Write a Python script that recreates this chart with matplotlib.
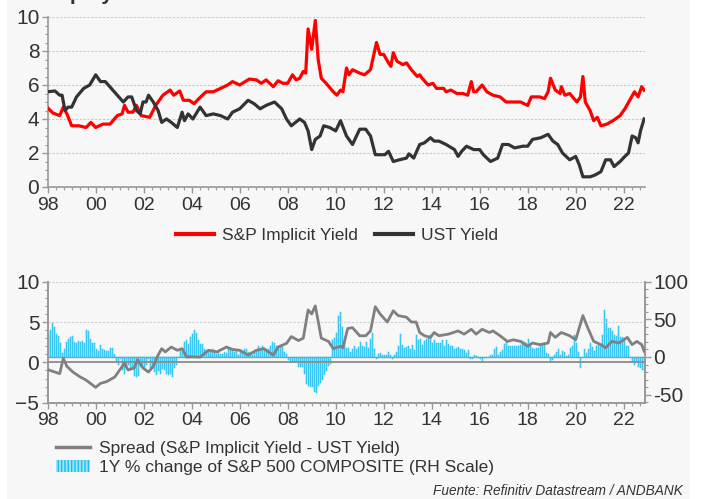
import matplotlib
matplotlib.use("Agg")
import matplotlib.pyplot as plt
from matplotlib.patches import Rectangle, Patch
from matplotlib.lines import Line2D
from matplotlib.ticker import MultipleLocator, FixedLocator
import numpy as np

# ---------------- data ----------------
sp_yield_t = [1998.0,1998.22,1998.5,1998.65,1998.8,1999.0,1999.3,1999.6,1999.8,2000.0,2000.3,2000.6,2000.9,2001.1,2001.2,2001.35,2001.55,2001.7,2001.9,2002.25,2002.5,2002.8,2003.1,2003.25,2003.5,2003.65,2003.9,2004.1,2004.3,2004.6,2004.9,2005.2,2005.5,2005.7,2006.0,2006.4,2006.7,2006.9,2007.1,2007.4,2007.6,2007.8,2008.0,2008.2,2008.35,2008.5,2008.65,2008.75,2008.85,2009.0,2009.15,2009.27,2009.4,2009.6,2009.9,2010.05,2010.2,2010.3,2010.45,2010.55,2010.7,2011.0,2011.2,2011.45,2011.7,2011.85,2012.0,2012.2,2012.3,2012.4,2012.55,2012.8,2012.95,2013.15,2013.4,2013.5,2013.6,2013.85,2014.05,2014.2,2014.5,2014.6,2014.8,2015.05,2015.3,2015.5,2015.65,2015.75,2015.85,2016.1,2016.3,2016.55,2016.85,2017.1,2017.7,2018.0,2018.15,2018.5,2018.7,2018.85,2018.95,2019.15,2019.35,2019.4,2019.55,2019.75,2020.05,2020.2,2020.3,2020.4,2020.6,2020.75,2020.9,2021.05,2021.3,2021.55,2021.85,2022.05,2022.25,2022.45,2022.6,2022.75,2022.85]
sp_yield_v = [4.65,4.35,4.2,4.7,4.3,3.6,3.6,3.5,3.8,3.5,3.7,3.7,4.2,4.3,4.8,4.4,4.4,4.8,4.2,4.1,4.8,5.4,5.7,5.4,5.65,5.1,5.1,4.9,5.2,5.6,5.6,5.8,6.0,6.2,6.0,6.35,6.3,6.1,6.3,5.9,6.25,6.1,6.1,6.6,6.3,6.4,6.8,6.7,9.3,8.1,9.8,7.5,6.4,6.1,5.6,5.4,5.7,5.6,7.0,6.6,6.9,6.7,6.6,6.9,8.5,7.8,7.8,7.3,7.1,7.9,7.4,7.2,7.3,6.9,6.5,6.6,6.4,6.0,6.1,5.8,5.8,5.6,5.7,5.5,5.5,5.4,6.2,5.6,5.6,6.0,5.6,5.4,5.3,5.0,5.0,4.8,5.3,5.3,5.2,5.6,6.4,5.7,5.5,5.9,5.4,5.5,5.0,5.3,6.5,5.0,4.5,3.9,4.1,3.6,3.7,3.9,4.2,4.6,5.1,5.6,5.3,5.9,5.7]

ust_t = [1998.0,1998.3,1998.5,1998.6,1998.72,1998.85,1999.0,1999.2,1999.5,1999.75,2000.0,2000.2,2000.4,2000.65,2000.9,2001.15,2001.35,2001.5,2001.7,2001.85,2001.97,2002.1,2002.2,2002.4,2002.6,2002.75,2002.95,2003.15,2003.4,2003.6,2003.7,2003.85,2004.05,2004.35,2004.6,2004.9,2005.2,2005.5,2005.7,2006.0,2006.35,2006.6,2006.85,2007.1,2007.45,2007.75,2007.95,2008.15,2008.5,2008.7,2008.85,2009.0,2009.15,2009.35,2009.5,2009.75,2010.0,2010.2,2010.45,2010.7,2011.0,2011.25,2011.45,2011.65,2011.85,2012.05,2012.2,2012.4,2012.65,2012.95,2013.05,2013.25,2013.5,2013.7,2013.95,2014.1,2014.3,2014.6,2014.95,2015.1,2015.25,2015.45,2015.75,2016.0,2016.15,2016.45,2016.75,2016.95,2017.2,2017.45,2017.8,2018.0,2018.2,2018.55,2018.85,2019.05,2019.25,2019.45,2019.75,2020.0,2020.15,2020.3,2020.6,2020.8,2021.05,2021.25,2021.45,2021.6,2021.85,2022.05,2022.2,2022.35,2022.5,2022.6,2022.7,2022.85]
ust_v = [5.6,5.65,5.4,5.4,4.5,4.7,4.7,5.3,5.8,6.0,6.6,6.2,6.2,5.8,5.4,5.0,5.3,5.3,4.5,4.3,5.0,5.0,5.4,5.0,4.5,3.8,4.0,3.8,3.5,4.4,3.9,4.3,4.0,4.7,4.2,4.3,4.2,4.0,4.4,4.6,5.1,4.9,4.6,4.8,5.0,4.6,4.0,3.6,4.0,3.8,3.3,2.2,2.8,3.0,3.6,3.5,3.3,3.9,3.0,2.5,3.4,3.4,3.0,1.9,1.9,1.9,2.1,1.5,1.6,1.7,1.95,1.7,2.5,2.6,2.9,2.7,2.7,2.5,2.2,1.8,2.1,2.4,2.2,2.2,1.9,1.5,1.7,2.5,2.5,2.3,2.4,2.4,2.8,2.9,3.1,2.7,2.5,2.0,1.6,1.8,1.3,0.6,0.6,0.7,0.9,1.6,1.6,1.2,1.5,1.8,2.0,3.0,2.9,2.6,3.3,4.0]

spread_t = [1998.0,1998.3,1998.5,1998.65,1998.8,1999.05,1999.35,1999.6,2000.0,2000.2,2000.45,2000.8,2001.0,2001.2,2001.35,2001.6,2001.75,2001.97,2002.2,2002.4,2002.6,2002.75,2002.9,2003.15,2003.4,2003.6,2003.8,2004.0,2004.35,2004.7,2005.05,2005.45,2005.7,2006.0,2006.35,2006.7,2007.0,2007.2,2007.4,2007.6,2007.95,2008.15,2008.45,2008.65,2008.85,2009.0,2009.15,2009.4,2009.7,2009.9,2010.2,2010.3,2010.5,2010.7,2011.0,2011.25,2011.45,2011.65,2011.85,2012.15,2012.4,2012.6,2012.95,2013.15,2013.35,2013.5,2013.7,2013.95,2014.1,2014.3,2014.7,2015.1,2015.35,2015.65,2015.85,2016.1,2016.4,2016.55,2016.85,2017.15,2017.4,2017.7,2018.0,2018.2,2018.5,2018.85,2018.95,2019.15,2019.4,2019.75,2020.0,2020.3,2020.5,2020.75,2021.05,2021.25,2021.5,2021.8,2022.0,2022.15,2022.35,2022.55,2022.75,2022.85]
spread_v = [-0.9,-1.2,-1.4,0.5,-0.5,-1.2,-1.8,-2.2,-3.1,-2.6,-2.4,-1.8,-0.95,-0.1,-0.95,-0.7,0.3,-0.7,-1.2,-0.5,0.9,1.7,1.3,1.9,1.5,1.7,0.65,0.7,0.65,1.5,1.3,1.9,1.6,1.5,0.9,1.5,1.7,1.3,0.9,1.9,2.35,3.2,2.7,3.0,6.5,6.0,7.0,3.0,2.6,1.7,2.0,1.8,4.2,4.3,3.3,3.3,3.9,6.9,6.0,5.0,6.4,5.8,5.6,5.0,5.0,3.7,3.3,3.1,3.7,3.3,3.5,3.9,3.5,4.1,3.5,4.1,3.7,3.9,3.3,2.6,2.8,2.6,2.0,2.4,2.2,2.4,3.7,3.1,3.7,3.3,2.8,5.8,4.3,2.6,2.2,1.8,2.6,2.4,2.8,3.1,2.2,2.6,2.2,1.4]

# 1Y % change of S&P 500 (monthly, Jan-1998 .. Nov-2022)
spx_yoy = [
    30, 36, 45, 40, 30, 28, 18, 5, 10, 20, 24, 27,        # 1998
    28, 20, 18, 21, 20, 21, 18, 36, 34, 24, 19, 19,       # 1999
    10, 8, 16, 11, 9, 8, 8, 12, 12, 4, -5, -10,           # 2000
    -2, -17, -22, -14, -11, -16, -15, -25, -27, -25, -13, -12,  # 2001
    -16, -10, -2, -14, -15, -20, -24, -18, -22, -16, -17, -23,  # 2002
    -24, -22, -26, -15, -10, -1, 8, 10, 20, 22, 17, 26,   # 2003
    30, 36, 32, 22, 17, 17, 11, 9, 9, 7, 11, 9,           # 2004
    4, 6, 4, 4, 6, 5, 11, 10, 10, 6, 8, 3,                # 2005
    9, 8, 10, 11, 6, 6, 2, 6, 8, 14, 12, 14,              # 2006
    12, 10, 10, 14, 20, 18, 14, 12, 15, 13, 6, 4,         # 2007
    -4, -5, -7, -6, -6, -13, -13, -13, -23, -36, -39, -40,  # 2008
    -40, -46, -48, -38, -34, -30, -24, -19, -12, -9, 22, 25,  # 2009
    32, 55, 60, 40, 18, 12, 12, 6, 10, 14, 10, 13,        # 2010
    20, 15, 13, 20, 12, 24, 32, 10, -3, 4, 5, 2,          # 2011
    2, 3, 6, 3, -2, 3, 7, 15, 31, 16, 12, 13,             # 2012
    14, 11, 16, 9, 29, 22, 24, 16, 21, 24, 25, 29,        # 2013
    19, 23, 19, 18, 18, 22, 15, 23, 17, 15, 14, 11,       # 2014
    12, 13, 10, 11, 9, 5, 9, -2, -3, 3, 1, -1,            # 2015
    -3, -7, -1, -1, -1, 2, 3, 10, 13, 2, 6, 9,            # 2016
    17, 22, 15, 15, 15, 15, 14, 14, 16, 21, 20, 19,       # 2017
    24, 15, 12, 11, 12, 12, 14, 17, 16, 5, 4, -6,         # 2018
    -4, 3, 7, 11, 2, 8, 6, 1, 2, 12, 14, 29,              # 2019
    19, 6, -15, -1, 10, 5, 10, 19, 13, 8, 15, 16,         # 2020
    15, 29, 63, 50, 38, 39, 34, 29, 28, 41, 26, 27,       # 2021
    22, 15, 14, -1, -6, -10, -6, -13, -15, -17, -18,      # 2022
]
spx_t = [1998 + i / 12 + 1 / 24 for i in range(len(spx_yoy))]

xtick_years = list(range(1998, 2023, 2))
xtick_labels = [f"{y % 100:02d}" for y in xtick_years]

# ---------------- figure ----------------
W, H = 706, 499
fig = plt.figure(figsize=(W / 100, H / 100), dpi=100, facecolor="white")
BG = "#f7f7f7"
fig.patches.append(Rectangle((7 / W, 0), (690 - 7) / W, 1, transform=fig.transFigure,
                             facecolor=BG, edgecolor="none", zorder=-10))

FONT = "Liberation Sans"
TXT = "#333333"
SPINE = "#999999"
YLAB = 15
XLAB = 14
LEG = 12.5

def px_axes(l, t, r, b):
    return fig.add_axes([l / W, (H - b) / H, (r - l) / W, (b - t) / H])

x0, x1 = 1998.0, 1998.0 + (645 - 47.7) / 24

# partial title (cut at the top edge, as in the reference)
fig.text(50 / W, 1 + 0.5 / H, "Equity", fontsize=15, fontweight="bold", color=TXT,
         family=FONT, va="baseline", ha="left")

# ---- top panel ----
ax1 = px_axes(47.7, 17, 645, 187)
ax1.set_facecolor(BG)
ax1.plot(sp_yield_t, sp_yield_v, color="#ff0000", lw=2.3, zorder=3)
ax1.plot(ust_t, ust_v, color="#333333", lw=2.3, zorder=3)
ax1.set_xlim(x0, x1)
ax1.set_ylim(0, 10)
ax1.yaxis.set_major_locator(MultipleLocator(2))
ax1.yaxis.set_minor_locator(MultipleLocator(0.5))
ax1.xaxis.set_major_locator(FixedLocator(xtick_years))
ax1.xaxis.set_minor_locator(MultipleLocator(1 / 3))
ax1.set_xticklabels(xtick_labels)
ax1.grid(axis="y", which="major", color="#c8c8c8", ls=(0, (2, 1.5)), lw=0.8)
for s in ["top", "right"]:
    ax1.spines[s].set_visible(False)
for s in ["left", "bottom"]:
    ax1.spines[s].set_color(SPINE)
    ax1.spines[s].set_linewidth(1.2)
ax1.tick_params(axis="both", which="major", length=4, color=SPINE, width=1)
ax1.tick_params(axis="both", which="minor", length=2, color=SPINE, width=0.8)
ax1.tick_params(axis="y", labelsize=YLAB, pad=2, labelcolor=TXT)
ax1.tick_params(axis="x", labelsize=XLAB, pad=3, labelcolor=TXT)
for lab in ax1.get_yticklabels() + ax1.get_xticklabels():
    lab.set_family(FONT)

h1 = [Line2D([], [], color="#ff0000", lw=3), Line2D([], [], color="#333333", lw=3)]
fig.legend(h1, ["S&P Implicit Yield", "UST Yield"], loc="center", bbox_to_anchor=(337 / W, 1 - 235 / H),
           ncol=2, frameon=False, prop={"family": FONT, "size": LEG}, handlelength=2.2,
           columnspacing=1.0, handletextpad=0.45, labelcolor=TXT)

# ---- bottom panel ----
ax2 = px_axes(47.7, 281.7, 645, 402.7)
ax3 = ax2.twinx()
ax3.bar(spx_t, spx_yoy, width=0.045, color="#5ad2f5", edgecolor="#12bdf0", lw=0.35, zorder=2)
ax3.axhline(0, color="#9a9a9a", lw=1.0, zorder=3)
ax3.set_ylim(-(402.7 - 357) / 0.753, 100)
ax2.set_zorder(ax3.get_zorder() + 1)
ax2.patch.set_visible(False)
ax3.patch.set_visible(True)
ax3.patch.set_facecolor(BG)
ax2.plot(spread_t, spread_v, color="#808080", lw=2.0, zorder=4)
ax2.axhline(0, color="#8c8c8c", lw=1.3, zorder=3)
ax2.set_xlim(x0, x1)
ax2.set_ylim(-5, 10)
ax2.yaxis.set_major_locator(MultipleLocator(5))
ax2.yaxis.set_minor_locator(MultipleLocator(1))
ax2.xaxis.set_major_locator(FixedLocator(xtick_years))
ax2.xaxis.set_minor_locator(MultipleLocator(1 / 3))
ax2.set_xticklabels(xtick_labels)
ax3.set_yticks([-50, 0, 50, 100])
ax3.set_yticklabels(["-50", "0", "50", "100"])
ax3.yaxis.set_minor_locator(MultipleLocator(10))
ax3.xaxis.set_major_locator(FixedLocator(xtick_years))
ax3.grid(axis="x", which="major", color="#d0d0d0", ls=(0, (2, 1.5)), lw=0.8)
ax2.grid(axis="y", which="major", color="#d0d0d0", ls=(0, (2, 1.5)), lw=0.8)
for ax in (ax2, ax3):
    ax.spines["top"].set_visible(False)
    for s in ["left", "bottom", "right"]:
        ax.spines[s].set_color(SPINE)
        ax.spines[s].set_linewidth(1.2)
    ax.tick_params(axis="both", which="major", length=4, color=SPINE, width=1)
    ax.tick_params(axis="both", which="minor", length=2, color=SPINE, width=0.8)
ax2.tick_params(axis="y", labelsize=YLAB, pad=2, labelcolor=TXT)
ax3.tick_params(axis="y", labelsize=YLAB, pad=2, labelcolor=TXT)
ax2.tick_params(axis="x", labelsize=XLAB, pad=3, labelcolor=TXT)
for lab in ax2.get_yticklabels() + ax3.get_yticklabels() + ax2.get_xticklabels():
    lab.set_family(FONT)

h2 = [Line2D([], [], color="#808080", lw=2.5),
      Patch(facecolor="#9fe3f7", edgecolor="#19bdf0", hatch="|||||", lw=0)]
fig.legend(h2, ["Spread (S&P Implicit Yield - UST Yield)", "1Y % change of S&P 500 COMPOSITE (RH Scale)"],
           loc="upper left", bbox_to_anchor=(40 / W, 1 - 425 / H), ncol=1, frameon=False,
           prop={"family": FONT, "size": LEG}, handlelength=2.0, handletextpad=0.5,
           labelspacing=0.25, labelcolor=TXT)

fig.text(683 / W, 1 - 491 / H, "Fuente: Refinitiv Datastream / ANDBANK", fontsize=9.8,
         style="italic", family=FONT, color=TXT, ha="right", va="center")

fig.savefig("out.png", dpi=100, facecolor="white")
